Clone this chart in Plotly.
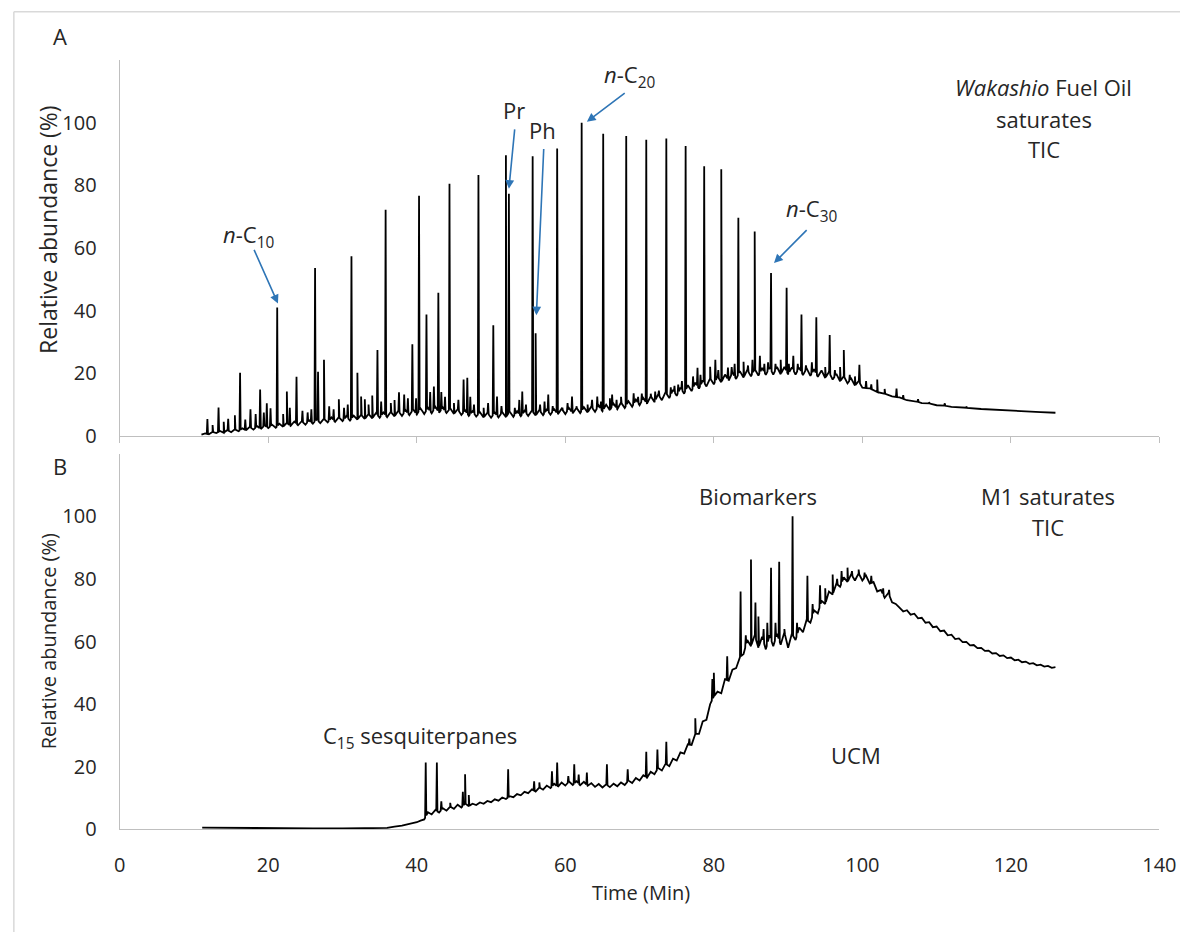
import numpy as np
import plotly.graph_objects as go

# ---------------- Panel A : Wakashio fuel oil saturates TIC ----------------
a_base_t = [11.0, 11.5, 12.0, 12.5, 13.0, 13.5, 14.0, 14.5, 15.0, 15.5, 16.0, 16.5, 17.0, 17.5,
            18.0, 18.5, 19.0, 19.5, 20.0, 20.5, 21.0, 21.5, 22.0, 22.5, 23.0, 23.5, 24.0, 24.5,
            25.0, 25.5, 26.0, 26.5, 27.0, 27.5, 28.0, 28.5, 29.0, 29.5, 30.0, 30.5, 31.0, 31.5,
            32.0, 32.5, 33.0, 33.5, 34.0, 34.5, 35.0, 35.5, 36.0, 36.5, 37.0, 37.5, 38.0, 38.5,
            39.0, 39.5, 40.0, 40.5, 41.0, 41.5, 42.0, 42.5, 43.0, 43.5, 44.0, 44.5, 45.0, 45.5,
            46.0, 46.5, 47.0, 47.5, 48.0, 48.5, 49.0, 49.5, 50.0, 50.5, 51.0, 51.5, 52.0, 52.5,
            53.0, 53.5, 54.0, 54.5, 55.0, 55.5, 56.0, 56.5, 57.0, 57.5, 58.0, 58.5, 59.0, 59.5,
            60.0, 60.5, 61.0, 61.5, 62.0, 62.5, 63.0, 63.5, 64.0, 64.5, 65.0, 65.5, 66.0, 66.5,
            67.0, 67.5, 68.0, 68.5, 69.0, 69.5, 70.0, 70.5, 71.0, 71.5, 72.0, 72.5, 73.0, 73.5,
            74.0, 74.5, 75.0, 75.5, 76.0, 76.5, 77.0, 77.5, 78.0, 78.5, 79.0, 79.5, 80.0, 80.5,
            81.0, 81.5, 82.0, 82.5, 83.0, 83.5, 84.0, 84.5, 85.0, 85.5, 86.0, 86.5, 87.0, 87.5,
            88.0, 88.5, 89.0, 89.5, 90.0, 90.5, 91.0, 91.5, 92.0, 92.5, 93.0, 93.5, 94.0, 94.5,
            95.0, 95.5, 96.0, 96.5, 97.0, 97.5, 98.0, 98.5, 99.0, 99.5, 100.0,
            101, 102, 103, 104, 105, 106, 107, 108, 109, 110, 111, 112, 114, 116, 118, 120,
            122, 124, 126.0]
a_base_v = [0.4, 0.8, 0.5, 1.3, 0.9, 1.6, 1.0, 1.9, 1.2, 2.1, 1.5, 2.4, 1.8, 2.9,
            2.0, 3.1, 2.2, 3.4, 2.5, 3.6, 2.6, 3.9, 2.9, 4.2, 3.2, 4.6, 3.4, 4.7,
            3.6, 5.0, 3.9, 5.3, 4.1, 5.5, 4.3, 5.9, 4.5, 6.0, 4.7, 6.3, 4.9, 6.5,
            5.2, 6.8, 5.4, 7.0, 5.6, 7.3, 5.8, 7.5, 6.0, 7.7, 6.2, 8.0, 6.4, 8.2,
            6.6, 8.5, 6.8, 8.8, 7.0, 9.0, 7.2, 9.3, 7.4, 9.1, 7.3, 8.8, 7.0, 8.5,
            6.7, 8.2, 6.4, 7.9, 6.2, 7.6, 5.9, 7.4, 5.8, 7.5, 5.9, 7.6, 6.0, 7.8,
            6.1, 7.9, 6.3, 8.0, 6.4, 8.1, 6.5, 8.3, 6.6, 8.4, 6.8, 8.5, 6.9, 8.7,
            7.0, 8.9, 7.2, 9.0, 7.3, 9.2, 7.5, 9.4, 7.7, 9.7, 7.9, 10.0, 8.2, 10.3,
            8.5, 10.7, 8.9, 11.1, 9.3, 11.6, 9.8, 12.1, 10.3, 12.7, 10.8, 13.3, 11.4, 14.0,
            12.1, 14.7, 12.8, 15.4, 13.5, 16.2, 14.3, 17.0, 15.1, 17.7, 15.8, 18.4, 16.5, 19.0,
            17.1, 19.6, 17.7, 20.2, 18.2, 20.7, 18.6, 21.1, 19.0, 21.4, 19.3, 21.7, 19.5, 21.9,
            19.6, 22.0, 19.7, 22.0, 19.7, 21.9, 19.6, 21.8, 19.4, 21.6, 19.2, 21.3, 18.9, 20.9,
            18.5, 20.4, 18.0, 19.8, 17.4, 19.1, 16.8, 18.3, 16.1, 17.5, 15.4,
            15.2, 14.0, 13.5, 12.6, 12.3, 11.4, 11.2, 10.5, 10.4, 9.8, 9.7, 9.3, 9.0, 8.6, 8.3, 8.0,
            7.8, 7.6, 7.4]

# n-alkanes (n-C9 ... n-C35) plus pristane / phytane
a_major_t = [16.2, 21.2, 26.3, 31.2, 35.8, 40.3, 44.4, 48.3, 52.0, 52.4, 55.6, 56.0, 58.9,
             62.2, 65.1, 68.2, 70.9, 73.6, 76.2, 78.7, 81.0, 83.3, 85.5, 87.7, 89.8, 91.8,
             93.8, 95.6, 97.5, 99.6]
a_major_v = [20.2, 41.0, 53.6, 57.4, 72.2, 76.7, 80.5, 83.3, 89.6, 77.3, 89.3, 32.8, 91.8,
             100.0, 96.5, 95.8, 94.6, 95.0, 92.6, 86.1, 85.2, 69.7, 65.3, 52.0, 47.3, 38.8,
             37.9, 32.2, 27.4, 22.7]

a_minor_t = [11.8, 12.5, 13.3, 14.0, 14.6, 15.5, 16.9, 17.6, 18.3, 18.9, 19.4, 19.8, 20.3,
             22.0, 22.5, 22.9, 23.8, 24.6, 25.3, 25.8, 26.7, 27.5, 28.2, 28.8, 29.5, 30.2,
             30.7, 32.0, 32.5, 33.0, 33.5, 34.0, 34.7, 35.2, 36.5, 37.0, 37.6, 38.3, 38.8,
             39.4, 39.9, 41.3, 41.8, 42.3, 42.9, 43.3, 43.8, 45.0, 45.6, 46.3, 46.8, 47.2,
             47.7, 49.0, 49.6, 50.3, 50.8, 51.4, 53.2, 53.8, 54.2, 54.7, 56.6, 57.2, 57.7,
             58.3, 59.6, 60.3, 60.9, 61.5, 63.0, 63.6, 64.3, 64.8, 66.0, 66.3, 66.9, 67.5,
             69.2, 69.8, 70.3, 71.5, 72.1, 72.6, 74.2, 74.7, 75.2, 75.7, 77.2, 77.8, 78.2,
             79.5, 80.2, 80.6, 81.9, 82.4, 82.8, 84.0, 84.6, 85.2, 86.2, 86.8, 87.3, 88.3,
             89.0, 90.1, 90.7, 91.3, 92.4, 93.2, 95.0, 96.3, 97.0, 98.3, 99.0, 100.5, 101.2,
             102.0, 103.0, 104.6, 105.5, 107.5, 109.0, 111.1, 114.0]
a_minor_v = [5.4, 3.5, 9.1, 4.5, 5.5, 6.6, 5.2, 8.5, 7.0, 14.8, 7.5, 10.4, 8.8,
             7.0, 14.2, 9.0, 18.9, 8.0, 7.5, 8.5, 20.5, 24.3, 9.5, 8.5, 11.7, 9.0,
             10.0, 20.2, 12.6, 11.7, 10.0, 12.9, 27.4, 11.0, 10.5, 11.5, 13.9, 13.2, 12.0,
             29.3, 12.0, 38.8, 14.0, 15.8, 45.7, 14.0, 12.5, 10.5, 11.5, 18.0, 18.6, 12.5,
             10.0, 9.0, 10.5, 35.3, 12.6, 9.5, 9.0, 11.5, 14.2, 10.0, 10.0, 11.0, 13.2,
             9.5, 9.0, 10.5, 12.6, 9.5, 10.0, 11.5, 12.6, 11.0, 12.0, 13.2, 11.5, 12.5,
             13.6, 12.5, 13.5, 13.5, 14.2, 14.5, 15.5, 16.0, 16.4, 17.5, 19.0, 21.8, 19.5,
             22.1, 24.3, 21.0, 21.8, 22.0, 23.0, 23.7, 22.5, 24.3, 25.6, 23.0, 23.5, 23.0,
             24.3, 23.0, 25.6, 23.0, 22.5, 23.5, 22.0, 21.0, 22.0, 19.5, 19.0, 17.5, 16.5,
             18.0, 15.0, 15.1, 13.0, 11.7, 10.8, 10.4, 9.4]

# ---------------- Panel B : M1 saturates TIC ----------------
b_base_t = [11.1, 14, 18, 22, 26, 30, 34, 36, 37, 38, 39, 40, 40.5, 41.0,
            41.5, 42.0, 42.5, 43.0, 43.5, 44.0, 44.5, 45.0, 45.5, 46.0, 46.5, 47.0, 47.5,
            48.0, 48.5, 49.0, 49.5, 50.0, 50.5, 51.0, 51.5, 52.0, 52.5, 53.0, 53.5, 54.0,
            54.5, 55.0, 55.5, 56.0, 56.5, 57.0, 57.5, 58.0, 58.5, 59.0, 59.5, 60.0, 60.5,
            61.0, 61.5, 62.0, 62.5, 63.0, 63.5, 64.0, 64.5, 65.0, 65.5, 66.0, 66.5, 67.0,
            67.5, 68.0, 68.5, 69.0, 69.5, 70.0, 70.5, 71.0, 71.5, 72.0, 72.5, 73.0, 73.5,
            74.0, 74.5, 75.0, 75.5, 76.0, 76.5, 77.0, 77.5, 78.0, 78.5, 79.0, 79.5, 80.0,
            80.5, 81.0, 81.5, 82.0, 82.5, 83.0, 83.5, 84.0, 84.5, 85.0, 85.5, 86.0, 86.5,
            87.0, 87.5, 88.0, 88.5, 89.0, 89.5, 90.0, 90.5, 91.0, 91.5, 92.0, 92.5, 93.0,
            93.5, 94.0, 94.5, 95.0, 95.5, 96.0, 96.5, 97.0, 97.5, 98.0, 98.5, 99.0, 99.5,
            100.0, 100.5, 101.0, 101.5, 102.0, 102.5, 103.0, 103.5, 104.0, 104.5, 105.0,
            105.5, 106.0, 106.5, 107.0, 107.5, 108.0, 108.5, 109.0, 109.5, 110.0, 110.5,
            111.0, 111.5, 112.0, 112.5, 113.0, 113.5, 114.0, 114.5, 115.0, 115.5, 116.0,
            116.5, 117.0, 117.5, 118.0, 118.5, 119.0, 119.5, 120.0, 120.5, 121.0, 121.5,
            122.0, 122.5, 123.0, 123.5, 124.0, 124.5, 125.0, 125.5, 126.0]
b_base_v = [0.6, 0.5, 0.5, 0.4, 0.3, 0.3, 0.3, 0.5, 0.9, 1.2, 1.8, 2.3, 2.8, 3.2,
            5.5, 4.8, 6.2, 5.4, 6.8, 6.0, 7.3, 6.6, 7.9, 7.0, 8.3, 7.4, 8.2,
            7.8, 8.6, 8.2, 9.1, 8.7, 9.6, 9.2, 10.2, 9.7, 10.6, 10.3, 11.3, 10.9,
            12.0, 11.6, 12.8, 12.1, 13.4, 12.7, 14.0, 13.2, 14.6, 13.6, 15.0, 14.0, 15.3,
            14.2, 15.4, 14.1, 15.2, 13.9, 14.8, 13.6, 14.5, 13.4, 14.4, 13.5, 14.6, 13.8,
            15.0, 14.2, 15.6, 14.8, 16.4, 15.6, 17.3, 16.5, 18.4, 17.6, 19.6, 18.8, 21.0,
            20.2, 22.6, 22.0, 24.6, 24.2, 27.2, 27.0, 30.5, 30.5, 34.5, 35.0, 40.0, 42.5,
            44.0, 43.5, 48.0, 47.5, 51.0, 51.5, 55.0, 56.0, 60.5, 58.5, 62.0, 58.0, 61.5,
            57.5, 62.0, 58.5, 62.5, 59.0, 63.0, 58.0, 62.5, 60.5, 64.5, 63.0, 67.0, 66.0,
            70.0, 69.0, 73.0, 72.0, 76.0, 75.0, 78.5, 77.5, 80.5, 79.0, 81.5, 79.5, 81.8,
            79.5, 81.0, 78.5, 79.0, 76.0, 76.5, 74.0, 75.5, 72.5, 72.0, 70.8,
            69.6, 70.0, 68.6, 68.9, 67.4, 67.6, 66.0, 66.2, 64.6, 64.8, 63.3,
            63.5, 62.0, 62.2, 60.8, 61.0, 59.8, 59.9, 58.8, 58.9, 57.9, 58.0,
            57.0, 57.1, 56.2, 56.3, 55.4, 55.6, 54.7, 54.9, 54.0, 54.2, 53.4,
            53.6, 52.9, 53.1, 52.4, 52.6, 52.0, 52.2, 51.6, 51.8]

b_peak_t = [41.2, 42.7, 43.3, 44.5, 46.2, 46.5, 47.0, 52.3, 55.8, 56.5, 58.2, 58.9, 60.4,
            61.2, 61.8, 62.9, 65.6, 68.4, 70.9, 72.4, 73.6, 76.7, 77.5, 79.8, 80.0, 81.8,
            83.6, 84.3, 85.0, 85.6, 86.0, 86.7, 87.2, 87.7, 88.3, 88.8, 89.5, 90.6, 91.2,
            92.6, 93.3, 94.3, 95.0, 96.0, 96.6, 97.2, 98.0, 98.6, 99.5, 100.3, 101.2,
            102.8, 103.6]
b_peak_v = [21.4, 21.4, 9.0, 8.5, 12.0, 17.6, 11.0, 19.2, 15.4, 15.0, 18.6, 21.4, 17.0,
            20.8, 17.5, 18.2, 20.8, 19.2, 24.8, 25.5, 28.0, 29.0, 35.5, 48.0, 50.0, 55.3,
            76.0, 62.0, 86.2, 72.5, 68.0, 64.0, 66.0, 83.6, 66.0, 85.5, 64.0, 100.0, 66.0,
            81.0, 72.0, 78.0, 77.0, 81.4, 80.0, 82.5, 83.6, 82.5, 83.0, 82.0, 81.0,
            77.0, 76.5]

x_ticks = [0, 20, 40, 60, 80, 100, 120, 140]
y_ticks = [0, 20, 40, 60, 80, 100]


def chromatogram(base_t, base_v, peak_lists, w=0.08):
    bt = np.asarray(base_t, float)
    bv = np.asarray(base_v, float)
    xs, ys = list(bt), list(bv)
    for pt, pv in peak_lists:
        for t, v in zip(pt, pv):
            for tt in (t - w, t + w):
                xs.append(tt)
                ys.append(float(np.interp(tt, bt, bv)))
            xs.append(t)
            ys.append(v)
    order = np.argsort(np.asarray(xs), kind="stable")
    return np.asarray(xs)[order], np.asarray(ys)[order]


ax_t, ax_v = chromatogram(a_base_t, a_base_v, [(a_major_t, a_major_v), (a_minor_t, a_minor_v)])
bx_t, bx_v = chromatogram(b_base_t, b_base_v, [(b_peak_t, b_peak_v)])

W, H = 1197, 945
FONT = "Open Sans"
AXC = "#bfbfbf"
TXT = "#262626"
BLUE = "#2e75b6"

fig = go.Figure()
fig.add_trace(go.Scatter(x=ax_t, y=ax_v, mode="lines", line=dict(color="black", width=1.8),
                         xaxis="x", yaxis="y", showlegend=False, hoverinfo="skip"))
fig.add_trace(go.Scatter(x=bx_t, y=bx_v, mode="lines", line=dict(color="black", width=1.8),
                         xaxis="x2", yaxis="y2", showlegend=False, hoverinfo="skip"))

xdom = [116 / W, 1176 / W]
common_x = dict(domain=xdom, range=[0, 140], tickvals=x_ticks, showgrid=False, zeroline=False,
                showline=True, linecolor=AXC, linewidth=1.3, tickfont=dict(family=FONT, size=20, color=TXT))
common_y = dict(range=[0, 120], tickvals=y_ticks, showgrid=False, zeroline=False,
                showline=True, linecolor=AXC, linewidth=1.3, ticks="outside", ticklen=18,
                tickcolor="rgba(0,0,0,0)", tickfont=dict(family=FONT, size=20, color=TXT))

fig.update_layout(
    width=W, height=H, margin=dict(l=0, r=0, t=0, b=0),
    paper_bgcolor="white", plot_bgcolor="white",
    xaxis=dict(**common_x, anchor="y", showticklabels=False, ticks="outside", ticklen=6,
               tickcolor=AXC, tickwidth=1.3),
    yaxis=dict(**common_y, domain=[(H - 442) / H, (H - 61) / H], anchor="x"),
    xaxis2=dict(**common_x, anchor="y2", showticklabels=True, ticks="outside", ticklen=17,
                tickcolor="rgba(0,0,0,0)"),
    yaxis2=dict(**common_y, domain=[(H - 841) / H, (H - 460) / H], anchor="x2"),
)

ann = []


def txt(text, x, y, xref, yref, size=22, **kw):
    ann.append(dict(text=text, x=x, y=y, xref=xref, yref=yref, showarrow=False,
                    font=dict(family=FONT, size=size, color=TXT), xanchor="center", yanchor="middle", **kw))


def arrow(tip, tail, xr="x", yr="y"):
    ann.append(dict(text="", x=tip[0], y=tip[1], ax=tail[0], ay=tail[1], xref=xr, yref=yr,
                    axref=xr, ayref=yr, showarrow=True, arrowhead=2, arrowsize=1.1,
                    arrowwidth=1.6, arrowcolor=BLUE))


# panel letters
txt("A", 55 / W, (H - 37) / H, "paper", "paper")
txt("B", 55 / W, (H - 473) / H, "paper", "paper")

# axis titles
txt("Relative abundance (%)", 43 / W, (H - 233) / H, "paper", "paper", size=23, textangle=-90)
txt("Relative abundance (%)", 43 / W, (H - 650) / H, "paper", "paper", size=20, textangle=-90)
txt("Time (Min)", 647 / W, 40 / H, "paper", "paper", size=20)

# panel A labels
txt("<i>n</i>-C<sub>10</sub>", 17.4, 63.7, "x", "y")
txt("Pr", 53.1, 104.1, "x", "y")
txt("Ph", 56.9, 97.8, "x", "y")
txt("<i>n</i>-C<sub>20</sub>", 68.6, 114.8, "x", "y")
txt("<i>n</i>-C<sub>30</sub>", 93.2, 72.2, "x", "y")
txt("<i>Wakashio</i> Fuel Oil", 124.4, 111.4, "x", "y")
txt("saturates", 124.4, 101.3, "x", "y")
txt("TIC", 124.4, 91.5, "x", "y")

arrow((21.3, 42.3), (18.0, 59.9))
arrow((52.4, 78.9), (53.2, 98.4))
arrow((56.1, 38.5), (57.1, 92.1))
arrow((62.9, 100.3), (68.2, 109.8))
arrow((88.1, 55.2), (92.7, 66.2))

# panel B labels
txt("Biomarkers", 86.0, 106.6, "x2", "y2")
txt("M1 saturates", 125.0, 106.6, "x2", "y2")
txt("TIC", 125.0, 96.5, "x2", "y2")
txt("C<sub>15</sub> sesquiterpanes", 40.4, 29.6, "x2", "y2")
txt("UCM", 99.2, 23.9, "x2", "y2")

fig.update_layout(annotations=ann)

# outer frame (top and left edges visible)
fig.add_shape(type="line", xref="paper", yref="paper", x0=8 / W, x1=1.0, y0=(H - 12) / H, y1=(H - 12) / H,
              line=dict(color="#d9d9d9", width=1.5))
fig.add_shape(type="line", xref="paper", yref="paper", x0=8 / W, x1=8 / W, y0=0, y1=(H - 12) / H,
              line=dict(color="#d9d9d9", width=1.5))

fig.write_html("out.html")
